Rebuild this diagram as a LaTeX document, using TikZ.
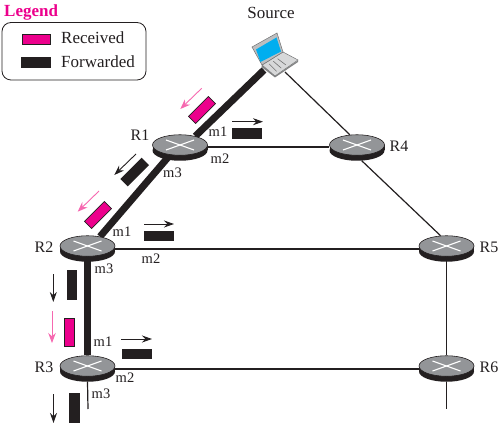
\documentclass[tikz,border=0pt]{standalone}
\usepackage{fontspec}
\setmainfont{Liberation Serif}
\usetikzlibrary{positioning,calc,arrows.meta,shapes.geometric,backgrounds}
\definecolor{pktpink}{HTML}{EC008C}
\definecolor{arrowpink}{HTML}{F668B0}
\definecolor{pktblack}{HTML}{231F20}
\definecolor{routergray}{HTML}{939598}
\definecolor{screenblue}{HTML}{00AEEF}
\definecolor{laptopgray}{HTML}{BCBEC0}
\tikzset{
  lab/.style={font=\fontsize{16}{18}\selectfont,text=pktblack,inner sep=0},
  keylab/.style={font=\fontsize{17}{19}\selectfont,text=pktblack,inner sep=0},
  portlab/.style={font=\fontsize{14.5}{16}\selectfont,text=pktblack,inner sep=0},
  router/.style={ellipse,draw=pktblack,line width=0.6pt,fill=routergray,minimum width=55pt,minimum height=20.5pt,inner sep=0},
  routerbase/.style={ellipse,fill=pktblack,minimum width=55pt,minimum height=20.5pt,inner sep=0},
  crossline/.style={draw=white,line width=1.1pt},
  thinlink/.style={draw=pktblack,line width=1.2pt},
  thicklink/.style={draw=pktblack,line width=7pt},
  % packets are 30 by 11, turned with rotate where the link is slanted
  pktrecv/.style={rectangle,draw=pktblack,line width=0.7pt,fill=pktpink,minimum width=28pt,minimum height=10pt,inner sep=0},
  pktfwd/.style={rectangle,fill=pktblack,minimum width=30pt,minimum height=10.5pt,inner sep=0},
  fwdarrow/.style={-{Stealth[length=10pt,width=7pt]},draw=pktblack,line width=0.9pt},
  recvarrow/.style={-{Stealth[length=10pt,width=7.5pt]},draw=arrowpink,line width=0.9pt},
}
% a router: dark base under a gray top with a white cross
\newcommand{\router}[2]{
  \fill[pktblack] ($(#2)+(-27.5,0)$) rectangle ($(#2)+(27.5,5.5)$);
  \node[routerbase] (#1base) at ($(#2)+(0,5.5)$) {};
  \node[router] (#1) at (#2) {};
  \draw[crossline] ($(#1)+(-14,-5)$) -- ($(#1)+(14,5)$);
  \draw[crossline] ($(#1)+(-14,5)$) -- ($(#1)+(14,-5)$);
}
% a small arrow beside a packet
\newcommand{\flow}[4]{
  \coordinate (#1a) at (#3);
  \coordinate (#1b) at (#4);
  \draw[#2] (#1a) -- (#1b);
}
\begin{document}
\begin{tikzpicture}[x=1pt,y=-1pt]
  \useasboundingbox (0,0) rectangle (502,427);
  % Legend
  \node[font=\fontsize{17}{19}\selectfont\bfseries,text=pktpink,inner sep=0,anchor=west] (legendtitle) at (4,12) {Legend};
  \draw[pktblack,line width=0.8pt,rounded corners=9pt] (2,22.5) rectangle (146,80);
  \node[pktrecv] (keyrecv) at (36,39.5) {};
  \node[pktfwd] (keyfwd) at (36,62.5) {};
  \node[keylab,anchor=west] (keyrecvtext) at (61,38) {Received};
  \node[keylab,anchor=west] (keyfwdtext) at (61,61.5) {Forwarded};
  % Routers
  \router{R1}{180,145}
  \router{R2}{87.5,246}
  \router{R3}{87.5,366}
  \router{R4}{357,145}
  \router{R5}{446.5,246}
  \router{R6}{446.5,366}
  \node[lab] (R1lab) at (140,135.5) {R1};
  \node[lab] (R2lab) at (44,247) {R2};
  \node[lab] (R3lab) at (44,367.5) {R3};
  \node[lab] (R4lab) at (399,146) {R4};
  \node[lab] (R5lab) at (489,247) {R5};
  \node[lab] (R6lab) at (489,367) {R6};
  % Source laptop
  \node[keylab] (source) at (271,13) {Source};
  \fill[laptopgray!70!black] (262,65) -- (275,76) -- (298,60.5) -- (298,62) -- (275,77.5) -- (261.5,67) -- cycle;
  \filldraw[fill=laptopgray!60,draw=laptopgray!60!black,line width=0.5pt] (262,65) -- (283,52) -- (298,60) -- (275,76) -- cycle;
  \foreach \t in {0.2,0.4,0.6} {
    \draw[black!55,line width=0.6pt] ($(262,65)!\t!(283,52)+(3,1.5)$) -- ($(275,76)!\t!(298,60)+(-3,-1.5)$);
  }
  \filldraw[fill=laptopgray,draw=laptopgray!60!black,line width=0.5pt] (252,47) -- (277,33) -- (283,52) -- (262,65) -- cycle;
  \fill[screenblue] (256,49.5) -- (276.5,37.5) -- (281,51.5) -- (260.5,62) -- cycle;
  \coordinate (srcthick) at (264,70);
  \coordinate (srcthin) at (285,72);
  \coordinate (R3end) at (88,409);
  \coordinate (R6end) at (446.5,409);
  % Links
  \begin{scope}[on background layer]
    \draw[thicklink] (srcthick) -- (R1.30);
    \draw[thicklink] (R1.225) -- (R2.37);
    \draw[thicklink] (R2.south) -- (R3.north);
    \draw[thinlink] (srcthin) -- (R4.125);
    \draw[thinlink] (R4base.-65) -- (R5.120);
    \draw[thinlink] ($(R1.east)+(0,2)$) -- ($(R4.west)+(0,2)$);
    \draw[thinlink] ($(R2.east)+(0,3)$) -- ($(R5.west)+(0,3)$);
    \draw[thinlink] ($(R3.east)+(0,3)$) -- ($(R6.west)+(0,3)$);
    \draw[thinlink] (R5.south) -- (R6.north);
    \draw[thinlink] (R3base.south) -- (R3end);
    \draw[thinlink] (R6base.south) -- (R6end);
  \end{scope}
  % Port labels
  \node[portlab] (R1m1) at (218,132) {m1};
  \node[portlab] (R1m2) at (220,159) {m2};
  \node[portlab] (R1m3) at (172.5,173) {m3};
  \node[portlab] (R2m1) at (122,232) {m1};
  \node[portlab] (R2m2) at (151,259) {m2};
  \node[portlab] (R2m3) at (104,269) {m3};
  \node[portlab] (R3m1) at (103,342) {m1};
  \node[portlab] (R3m2) at (125,378) {m2};
  \node[portlab] (R3m3) at (101,394) {m3};
  % Packets and their arrows
  \node[pktrecv,rotate=45] (recvA) at (202,110) {};
  \flow{recvAarrow}{recvarrow}{201.7,88.3}{180.3,109}
  \node[pktfwd,rotate=45] (fwdA) at (134.7,172) {};
  \flow{fwdAarrow}{fwdarrow}{136,154}{114.3,175}
  \node[pktrecv,rotate=45] (recvB) at (98,215) {};
  \flow{recvBarrow}{recvarrow}{99,191}{77.7,211.7}
  \node[pktfwd] (fwdB) at (247,133.5) {};
  \flow{fwdBarrow}{fwdarrow}{232,121.7}{263,121.7}
  \node[pktfwd] (fwdC) at (159,235.8) {};
  \flow{fwdCarrow}{fwdarrow}{144,224}{174,224}
  \node[pktfwd,rotate=90] (fwdD) at (72,285) {};
  \flow{fwdDarrow}{fwdarrow}{53.3,274}{53.3,302}
  \node[pktrecv,rotate=90] (recvC) at (69.2,332.3) {};
  \flow{recvCarrow}{recvarrow}{52,311}{52,343}
  \node[pktfwd] (fwdE) at (137.3,354.2) {};
  \flow{fwdEarrow}{fwdarrow}{121,339}{152,339}
  \node[pktfwd,rotate=90] (fwdF) at (74.3,407.5) {};
  \flow{fwdFarrow}{fwdarrow}{53.5,394}{53.5,423}
\end{tikzpicture}
\end{document}
